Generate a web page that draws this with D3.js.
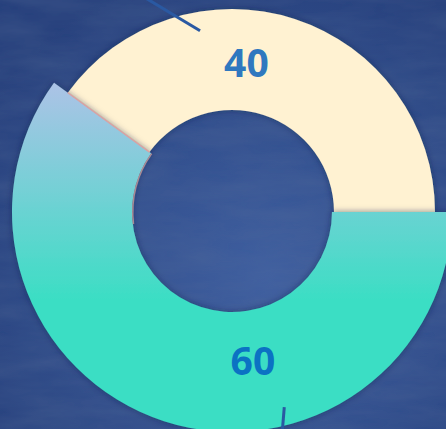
<!DOCTYPE html>
<html><head>
<meta charset="utf-8">
<script src="https://d3js.org/d3.v7.min.js"></script>
<style>
  html, body { margin: 0; padding: 0; background: #2c4a8b; }
  svg { display: block; }
</style>
</head>
<body>
<svg id="donut" width="446" height="429"></svg>
<script>
  // data
  const categories = ["A", "B"];
  const values = [40, 60];
  const labels = ["40", "60"];

  const svg = d3.select("svg#donut");
  const width = +svg.attr("width");
  const height = +svg.attr("height");
  const cx = 232, cy = 212;

  const defs = svg.append("defs");

  // textured blue backdrop
  let bg = defs.append("radialGradient").attr("id", "bgGrad")
    .attr("cx", "60%").attr("cy", "65%").attr("r", "75%");
  bg.append("stop").attr("offset", "0%").attr("stop-color", "#3f5fa0");
  bg.append("stop").attr("offset", "100%").attr("stop-color", "#27417d");

  let tex = defs.append("filter").attr("id", "tex")
    .attr("x", 0).attr("y", 0).attr("width", "100%").attr("height", "100%");
  tex.append("feTurbulence").attr("type", "fractalNoise")
    .attr("baseFrequency", "0.012 0.05").attr("numOctaves", 4).attr("seed", 7);
  tex.append("feColorMatrix").attr("type", "matrix")
    .attr("values", "0 0 0 0 0.1  0 0 0 0 0.16  0 0 0 0 0.32  0 0 0 0.45 -0.12");
  tex.append("feComposite").attr("in2", "SourceGraphic").attr("operator", "in");

  svg.append("rect").attr("width", width).attr("height", height).attr("fill", "url(#bgGrad)");
  svg.append("rect").attr("width", width).attr("height", height).attr("fill", "#fff")
    .attr("filter", "url(#tex)");

  const chart = svg.append("g").attr("transform", "translate(" + cx + "," + cy + ")");

  // gradient for the big slice (coordinates are in the chart group)
  let grad = defs.append("linearGradient").attr("id", "tealGrad")
    .attr("gradientUnits", "userSpaceOnUse")
    .attr("x1", 0).attr("x2", 0).attr("y1", 86 - cy).attr("y2", 300 - cy);
  grad.append("stop").attr("offset", "0%").attr("stop-color", "#abc3e6");
  grad.append("stop").attr("offset", "100%").attr("stop-color", "#3bdec4");

  let shadow = defs.append("filter").attr("id", "shadow")
    .attr("x", "-20%").attr("y", "-20%").attr("width", "140%").attr("height", "140%");
  shadow.append("feDropShadow").attr("dx", 0).attr("dy", 0).attr("stdDeviation", 3)
    .attr("flood-color", "#101c40").attr("flood-opacity", 0.5);

  const colors = ["#fff2d2", "url(#tealGrad)"];
  const outerR = [203, 220];
  const innerR = [102, 100];

  // pie goes counter-clockwise from 3 o'clock
  const pie = d3.pie().sort(null).value(d => d)
    .startAngle(Math.PI / 2).endAngle(Math.PI / 2 - 2 * Math.PI);
  const arcs = pie(values);

  chart.selectAll("path.slice").data(arcs).join("path")
    .attr("class", "slice")
    .attr("d", (d, i) => d3.arc().innerRadius(innerR[i]).outerRadius(outerR[i])(d))
    .attr("fill", (d, i) => colors[i])
    .attr("filter", "url(#shadow)");

  // thin pinkish edge where the slices meet
  const edge = arcs[0].endAngle;
  chart.append("line")
    .attr("x1", innerR[0] * Math.sin(edge)).attr("y1", -innerR[0] * Math.cos(edge))
    .attr("x2", outerR[0] * Math.sin(edge)).attr("y2", -outerR[0] * Math.cos(edge))
    .attr("stroke", "#d9a3a3").attr("stroke-width", 1.5);
  chart.append("path")
    .attr("d", d3.arc().innerRadius(innerR[1] - 1.5).outerRadius(innerR[1])
      .startAngle(edge).endAngle(edge - 0.75)())
    .attr("fill", "#c99a9a").attr("opacity", 0.8);

  // leader lines (stub pieces that remain visible)
  const leaders = [[-10, 184, 237], [165, 202, 224]];
  leaders.forEach(l => {
    let a = l[0] * Math.PI / 180;
    let a2 = (l[0] + (l[0] < 0 ? -5 : 2)) * Math.PI / 180;
    chart.append("line")
      .attr("x1", l[1] * Math.sin(a)).attr("y1", -l[1] * Math.cos(a))
      .attr("x2", l[2] * Math.sin(a2) - (l[0] < 0 ? 30 : 0)).attr("y2", -l[2] * Math.cos(a2) + (l[0] < 0 ? 12 : 0))
      .attr("stroke", "#2a59a2").attr("stroke-width", 3);
  });

  // value labels
  const labelAngle = [5.5, 172];
  const labelColor = ["#2f78bf", "#0b72c3"];
  chart.selectAll("text.val").data(arcs).join("text")
    .attr("class", "val")
    .attr("x", (d, i) => 150 * Math.sin(labelAngle[i] * Math.PI / 180))
    .attr("y", (d, i) => -150 * Math.cos(labelAngle[i] * Math.PI / 180))
    .attr("dy", "0.36em")
    .attr("text-anchor", "middle")
    .attr("font-family", "'Open Sans', sans-serif")
    .attr("font-weight", "bold")
    .attr("font-size", 39)
    .attr("fill", (d, i) => labelColor[i])
    .text((d, i) => labels[i]);
</script>
</body>
</html>
